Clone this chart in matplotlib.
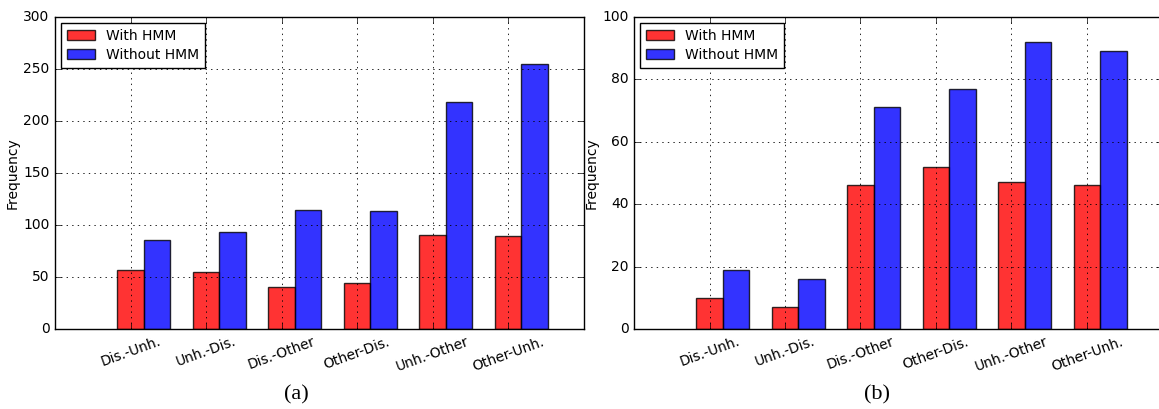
import numpy as np
import matplotlib
matplotlib.use("Agg")
import matplotlib.pyplot as plt

categories = ["Dis.-Unh.", "Unh.-Dis.", "Dis.-Other", "Other-Dis.", "Unh.-Other", "Other-Unh."]

# panel (a)
with_hmm_a = [57, 55, 40, 44, 90, 89]
without_hmm_a = [86, 93, 114, 113, 218, 255]

# panel (b)
with_hmm_b = [10, 7, 46, 52, 47, 46]
without_hmm_b = [19, 16, 71, 77, 92, 89]

plt.style.use("classic")
plt.rcParams["font.family"] = "DejaVu Sans"
plt.rcParams["font.size"] = 10
plt.rcParams["figure.facecolor"] = "white"

fig = plt.figure(figsize=(11.59, 4.09), dpi=100)

W, H = 1159.0, 409.0
ax_a = fig.add_axes([55 / W, 1 - 329 / H, 528.5 / W, 312 / H])
ax_b = fig.add_axes([634 / W, 1 - 329 / H, 528.5 / W, 312 / H])

width = 0.35
ind = np.arange(1, len(categories) + 1)


def draw(ax, red, blue, ymax, yticks):
    ax.bar(ind, red, width, color="r", alpha=0.8, edgecolor="k", label="With HMM")
    ax.bar(ind + width, blue, width, color="b", alpha=0.8, edgecolor="k", label="Without HMM")
    ax.set_xlim(0, 7)
    ax.set_ylim(0, ymax)
    ax.set_yticks(yticks)
    ax.set_xticks(ind)
    ax.set_xticklabels(categories, rotation=20, ha="center", fontsize=10)
    ax.tick_params(labelsize=10)
    ax.set_ylabel("Frequency", fontsize=10)
    ax.yaxis.set_label_coords(-0.066, 0.5)
    ax.grid(True, color="k", linestyle=":", linewidth=0.6)
    ax.legend(loc="upper left", fontsize=10, handlelength=2.0, handleheight=0.7,
              borderpad=0.45, labelspacing=0.35, handletextpad=0.8,
              borderaxespad=0.4)


draw(ax_a, with_hmm_a, without_hmm_a, 300, range(0, 301, 50))
draw(ax_b, with_hmm_b, without_hmm_b, 100, range(0, 101, 20))

fig.text(296.5 / W, 1 - 394.5 / H, "(a)", family="Liberation Serif", fontsize=16,
         ha="center", va="center")
fig.text(877 / W, 1 - 394.5 / H, "(b)", family="Liberation Serif", fontsize=16,
         ha="center", va="center")

fig.savefig("out.png", dpi=100, facecolor="white")
